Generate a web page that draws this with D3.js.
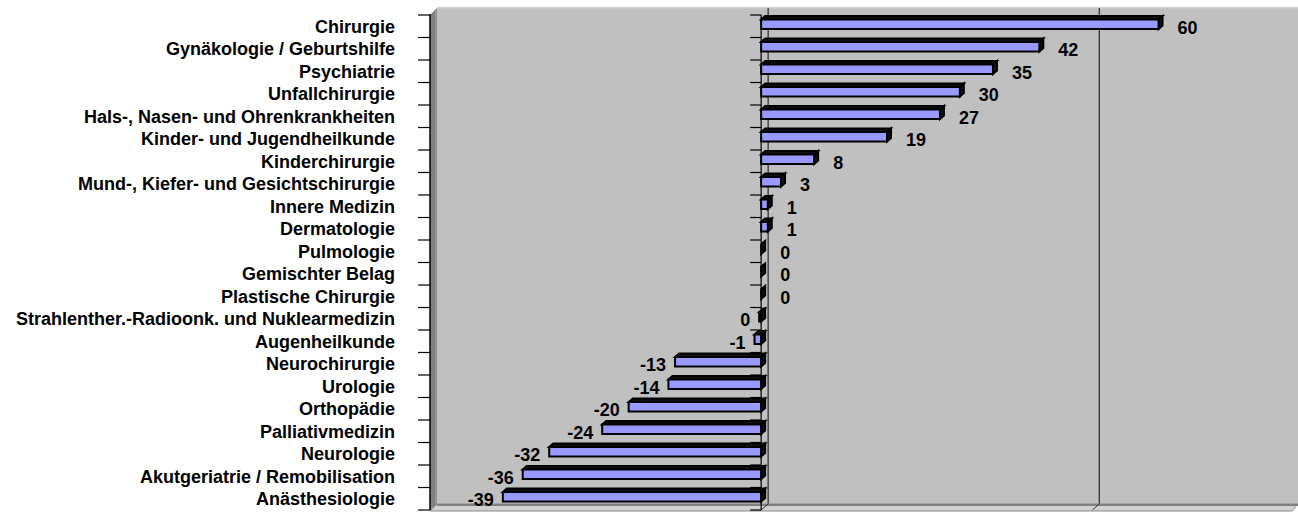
<!DOCTYPE html>
<html>
<head>
<meta charset="utf-8">
<script src="https://cdn.jsdelivr.net/npm/d3@7"></script>
<style>
  html, body { margin: 0; padding: 0; background: #ffffff; }
  svg { display: block; }
  text { font-family: "Liberation Sans", Arial, sans-serif; font-weight: bold; font-size: 18px; fill: #000; }
</style>
</head>
<body>
<div id="chart"></div>
<script>
const categories = [
  "Chirurgie",
  "Gynäkologie / Geburtshilfe",
  "Psychiatrie",
  "Unfallchirurgie",
  "Hals-, Nasen- und Ohrenkrankheiten",
  "Kinder- und Jugendheilkunde",
  "Kinderchirurgie",
  "Mund-, Kiefer- und Gesichtschirurgie",
  "Innere Medizin",
  "Dermatologie",
  "Pulmologie",
  "Gemischter Belag",
  "Plastische Chirurgie",
  "Strahlenther.-Radioonk. und Nuklearmedizin",
  "Augenheilkunde",
  "Neurochirurgie",
  "Urologie",
  "Orthopädie",
  "Palliativmedizin",
  "Neurologie",
  "Akutgeriatrie / Remobilisation",
  "Anästhesiologie"
];
const values = [60, 42, 35, 30, 27, 19, 8, 3, 1, 1, 0, 0, 0, -0.3, -1, -13, -14, -20, -24, -32, -36, -39];
const valueDomain = [-50, 80];
const gridTicks = [-50, 0, 50];

const W = 1298, H = 512;
const svg = d3.select("#chart").append("svg").attr("width", W).attr("height", H);

// depth offsets of the 3D walls and of each bar
const DX = 7, DY = -6;
const BDX = 4, BDY = -3.5;

const x = d3.scaleLinear().domain(valueDomain).range([430, 1291]);
const y = d3.scaleBand().domain(categories).range([15, 510]).padding(0);

const x0 = x(0);
const xL = x(valueDomain[0]), xR = x(valueDomain[1]);
const yT = y.range()[0], yB = y.range()[1];

// back wall
svg.append("rect")
  .attr("x", xL + DX).attr("y", yT + DY - 1)
  .attr("width", xR + DX - (xL + DX)).attr("height", yB + DY - (yT + DY - 1))
  .attr("fill", "#c0c0c0");
svg.append("line").attr("x1", xL + DX).attr("x2", xR + DX + 2)
  .attr("y1", yT + DY - 1.5).attr("y2", yT + DY - 1.5)
  .attr("stroke", "#d6d6d6").attr("stroke-width", 1.5);
svg.append("line").attr("x1", xR + DX + 1).attr("x2", xR + DX + 1)
  .attr("y1", yT + DY - 1).attr("y2", yB + DY + 2)
  .attr("stroke", "#808080").attr("stroke-width", 2);

// gridlines on back wall
svg.selectAll("line.grid").data(gridTicks.filter(t => t !== valueDomain[0])).join("line")
  .attr("class", "grid")
  .attr("x1", d => x(d) + DX).attr("x2", d => x(d) + DX)
  .attr("y1", yT + DY - 1).attr("y2", yB + DY)
  .attr("stroke", "#333").attr("stroke-width", 1.3);

// floor
svg.append("polygon")
  .attr("points", [[xL + DX, yB + DY], [xR + DX, yB + DY], [xR + 1, yB + 1], [xL, yB + 1]].map(p => p.join(",")).join(" "))
  .attr("fill", "#d2d2d2").attr("stroke", "#8a8a8a").attr("stroke-width", 1);
svg.append("line").attr("x1", xL + DX).attr("x2", xR + DX)
  .attr("y1", yB + DY + 1).attr("y2", yB + DY + 1)
  .attr("stroke", "#808080").attr("stroke-width", 2);
// gridline across floor
svg.selectAll("line.fgrid").data(gridTicks.filter(t => t !== valueDomain[0])).join("line")
  .attr("class", "fgrid")
  .attr("x1", d => x(d) + DX).attr("x2", d => x(d))
  .attr("y1", yB + DY).attr("y2", yB)
  .attr("stroke", "#333").attr("stroke-width", 1);

// left side wall
svg.append("polygon")
  .attr("points", [[xL, yT], [xL + DX, yT + DY - 1], [xL + DX, yB + DY], [xL, yB]].map(p => p.join(",")).join(" "))
  .attr("fill", "#808080");
svg.append("line").attr("x1", xL + DX - 1).attr("x2", xL + DX - 1)
  .attr("y1", yT + DY).attr("y2", yB + DY)
  .attr("stroke", "#9a9a9a").attr("stroke-width", 1.5);

// bars
const bars = svg.append("g");
categories.forEach((c, i) => {
  const v = values[i];
  const top = y(c) + 4.5, bot = y(c) + 14;
  const xa = Math.min(x(v), x0), xb = Math.max(x(v), x0);
  const g = bars.append("g").attr("stroke", "#000").attr("stroke-width", 2).attr("stroke-linejoin", "miter");
  // top face
  g.append("polygon")
    .attr("points", [[xa, top], [xb, top], [xb + BDX, top + BDY], [xa + BDX, top + BDY]].map(p => p.join(",")).join(" "))
    .attr("fill", "#111");
  // right face
  g.append("polygon")
    .attr("points", [[xb, top], [xb + BDX, top + BDY], [xb + BDX, bot + BDY], [xb, bot]].map(p => p.join(",")).join(" "))
    .attr("fill", "#111");
  // front face
  g.append("rect")
    .attr("x", xa).attr("y", top).attr("width", xb - xa).attr("height", bot - top)
    .attr("fill", "#9999ff");
});

// left category axis with ticks
const tickYs = categories.map(c => y(c)).concat([yB]);
svg.append("line").attr("x1", xL).attr("x2", xL).attr("y1", yT - 1).attr("y2", yB)
  .attr("stroke", "#000").attr("stroke-width", 1.5);
svg.selectAll("line.ltick").data(tickYs).join("line").attr("class", "ltick")
  .attr("x1", xL - 12).attr("x2", xL).attr("y1", d => d).attr("y2", d => d)
  .attr("stroke", "#000").attr("stroke-width", 1.2);

// axis at zero with ticks
svg.append("line").attr("x1", x0).attr("x2", x0).attr("y1", yT).attr("y2", yB)
  .attr("stroke", "#000").attr("stroke-width", 1.2);
svg.selectAll("line.ztick").data(tickYs).join("line").attr("class", "ztick")
  .attr("x1", x0 - 11).attr("x2", x0).attr("y1", d => d).attr("y2", d => d)
  .attr("stroke", "#000").attr("stroke-width", 1.2);

// category labels
svg.selectAll("text.cat").data(categories).join("text").attr("class", "cat")
  .attr("x", 395).attr("y", d => y(d) + y.bandwidth() / 2 + 6.5)
  .attr("text-anchor", "end")
  .text(d => d);

// value labels
svg.selectAll("text.val").data(values).join("text").attr("class", "val")
  .attr("x", d => d >= 0 ? x(d) + 19 : x(d) - 9)
  .attr("y", (d, i) => y(categories[i]) + y.bandwidth() / 2 + 7.5)
  .attr("text-anchor", d => d >= 0 ? "start" : "end")
  .text(d => String(Math.round(d) || 0));
</script>
</body>
</html>
